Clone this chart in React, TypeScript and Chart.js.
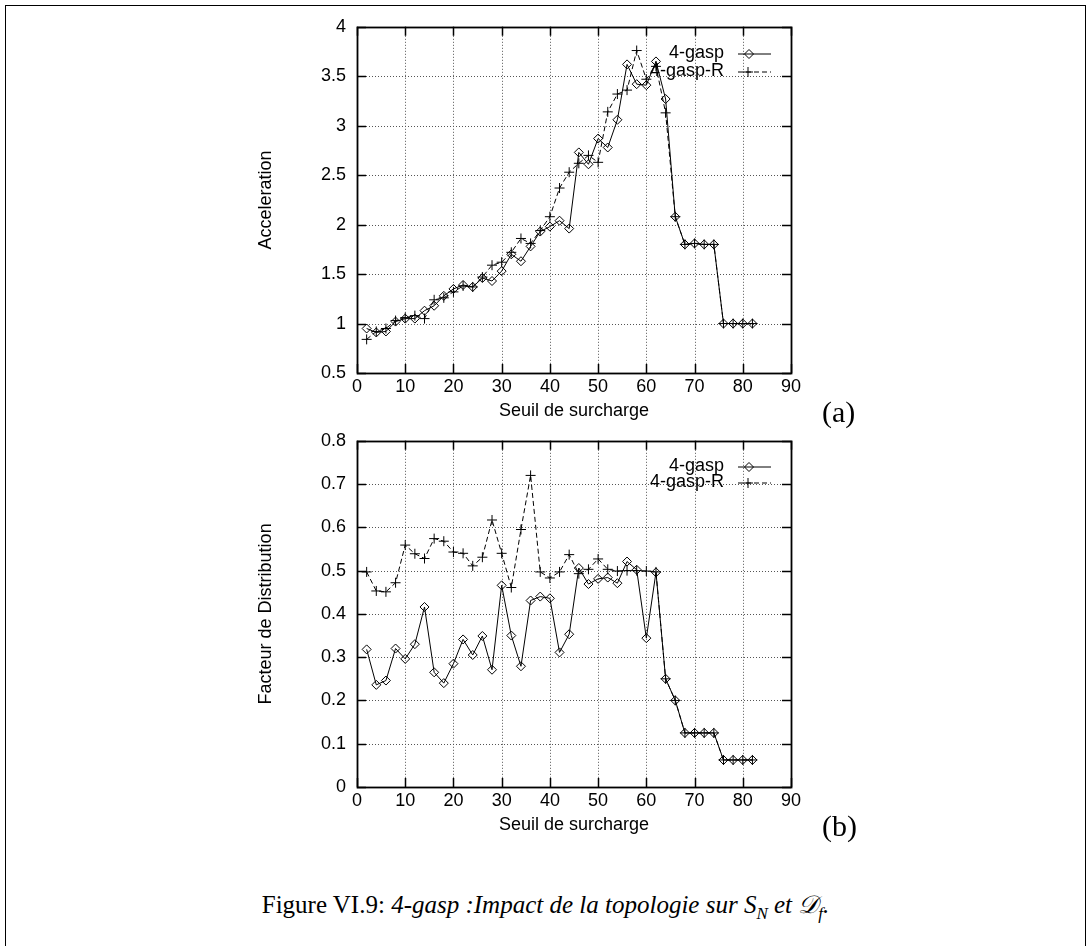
import React, { useEffect, useRef } from 'react';
import { Chart, registerables } from 'chart.js';

Chart.register(...registerables);

// ---------- data ----------
const seuil = [2, 4, 6, 8, 10, 12, 14, 16, 18, 20, 22, 24, 26, 28, 30, 32, 34, 36, 38, 40,
  42, 44, 46, 48, 50, 52, 54, 56, 58, 60, 62, 64, 66, 68, 70, 72, 74, 76, 78, 80, 82];

const accelGasp = [0.95, 0.91, 0.92, 1.02, 1.05, 1.05, 1.13, 1.18, 1.28, 1.35, 1.39, 1.37, 1.46, 1.43, 1.53,
  1.70, 1.63, 1.78, 1.93, 1.98, 2.04, 1.96, 2.73, 2.61, 2.87, 2.78, 3.06, 3.62, 3.42, 3.41, 3.65,
  3.27, 2.08, 1.80, 1.81, 1.80, 1.80, 1.00, 1.00, 1.00, 1.00];

const accelGaspR = [0.84, 0.92, 0.95, 1.03, 1.06, 1.08, 1.05, 1.24, 1.26, 1.32, 1.38, 1.37, 1.47, 1.59, 1.62,
  1.72, 1.86, 1.81, 1.94, 2.08, 2.37, 2.53, 2.62, 2.70, 2.63, 3.14, 3.32, 3.36, 3.76, 3.47, 3.60,
  3.13, 2.08, 1.80, 1.81, 1.80, 1.80, 1.00, 1.00, 1.00, 1.00];

const distGasp = [0.318, 0.236, 0.246, 0.320, 0.296, 0.330, 0.416, 0.265, 0.240, 0.285, 0.341, 0.305, 0.349,
  0.271, 0.466, 0.350, 0.279, 0.431, 0.440, 0.436, 0.311, 0.353, 0.506, 0.469, 0.481, 0.484, 0.471,
  0.521, 0.502, 0.344, 0.496, 0.25, 0.2, 0.125, 0.125, 0.125, 0.125, 0.0625, 0.0625, 0.0625, 0.0625];

const distGaspR = [0.497, 0.453, 0.451, 0.472, 0.559, 0.539, 0.528, 0.574, 0.568, 0.543, 0.540, 0.511, 0.531,
  0.617, 0.540, 0.461, 0.595, 0.720, 0.497, 0.483, 0.497, 0.537, 0.493, 0.503, 0.527, 0.503, 0.499,
  0.500, 0.500, 0.499, 0.497, 0.25, 0.2, 0.125, 0.125, 0.125, 0.125, 0.0625, 0.0625, 0.0625, 0.0625];

const xTickValues = [0, 10, 20, 30, 40, 50, 60, 70, 80, 90];
const xTickLabels = ['0', '10', '20', '30', '40', '50', '60', '70', '80', '90'];
const accelTickValues = [0.5, 1, 1.5, 2, 2.5, 3, 3.5, 4];
const accelTickLabels = ['0.5', '1', '1.5', '2', '2.5', '3', '3.5', '4'];
const distTickValues = [0, 0.1, 0.2, 0.3, 0.4, 0.5, 0.6, 0.7, 0.8];
const distTickLabels = ['0', '0.1', '0.2', '0.3', '0.4', '0.5', '0.6', '0.7', '0.8'];

const seriesNames = ['4-gasp', '4-gasp-R'];
const xTitle = 'Seuil de surcharge';
const accelTitle = 'Acceleration';
const distTitle = 'Facteur de Distribution';

// ---------- drawing helpers ----------
const SANS = "'Liberation Sans', Arial, sans-serif";
const CANVAS_LEFT = 250;
const CANVAS_W = 640;
const CANVAS_H = 420;

function drawDiamond(ctx: CanvasRenderingContext2D, x: number, y: number, r: number) {
  ctx.beginPath();
  ctx.moveTo(x - r, y);
  ctx.lineTo(x, y - r);
  ctx.lineTo(x + r, y);
  ctx.lineTo(x, y + r);
  ctx.closePath();
  ctx.stroke();
}
function drawCross(ctx: CanvasRenderingContext2D, x: number, y: number, r: number) {
  ctx.beginPath();
  ctx.moveTo(x - r, y);
  ctx.lineTo(x + r, y);
  ctx.moveTo(x, y - r);
  ctx.lineTo(x, y + r);
  ctx.stroke();
}

function makeGnuplotPlugin(yTicks: number[], legendRows: number[]) {
  return {
    id: 'gnuFrame',
    beforeDatasetsDraw(chart: any) {
      const { ctx, chartArea: a, scales } = chart;
      const xs = scales.x;
      const ys = scales.y;
      ctx.save();
      // dotted grid
      ctx.strokeStyle = '#555';
      ctx.lineWidth = 1;
      ctx.setLineDash([1, 2]);
      xTickValues.forEach((v) => {
        if (v <= xs.min || v >= xs.max) return;
        const px = Math.round(xs.getPixelForValue(v)) + 0.5;
        ctx.beginPath();
        ctx.moveTo(px, a.top);
        ctx.lineTo(px, a.bottom);
        ctx.stroke();
      });
      yTicks.forEach((v) => {
        if (v <= ys.min || v >= ys.max) return;
        const py = Math.round(ys.getPixelForValue(v)) + 0.5;
        ctx.beginPath();
        ctx.moveTo(a.left, py);
        ctx.lineTo(a.right, py);
        ctx.stroke();
      });
      ctx.setLineDash([]);
      // ticks (inside, mirrored)
      ctx.strokeStyle = '#000';
      ctx.lineWidth = 1.5;
      const tl = 9;
      xTickValues.forEach((v) => {
        const px = Math.round(xs.getPixelForValue(v)) + 0.5;
        ctx.beginPath();
        ctx.moveTo(px, a.bottom);
        ctx.lineTo(px, a.bottom - tl);
        ctx.moveTo(px, a.top);
        ctx.lineTo(px, a.top + tl);
        ctx.stroke();
      });
      yTicks.forEach((v) => {
        const py = Math.round(ys.getPixelForValue(v)) + 0.5;
        ctx.beginPath();
        ctx.moveTo(a.left, py);
        ctx.lineTo(a.left + tl, py);
        ctx.moveTo(a.right, py);
        ctx.lineTo(a.right - tl, py);
        ctx.stroke();
      });
      // border
      ctx.lineWidth = 1.8;
      ctx.strokeRect(Math.round(a.left) + 0.5, Math.round(a.top) + 0.5,
        Math.round(a.right - a.left), Math.round(a.bottom - a.top));
      ctx.restore();
    },
    afterDatasetsDraw(chart: any) {
      const { ctx } = chart;
      const textRight = 724 - CANVAS_LEFT;
      const x0 = 738 - CANVAS_LEFT;
      const x1 = 771 - CANVAS_LEFT;
      const mx = 749 - CANVAS_LEFT;
      ctx.save();
      ctx.font = `18px ${SANS}`;
      ctx.fillStyle = '#000';
      ctx.textAlign = 'right';
      ctx.textBaseline = 'middle';
      ctx.strokeStyle = '#000';
      ctx.lineWidth = 1;
      seriesNames.forEach((name, i) => {
        const y = legendRows[i];
        ctx.fillText(name, textRight, y);
        ctx.setLineDash(i === 0 ? [] : [5, 3]);
        ctx.beginPath();
        ctx.moveTo(x0, y + 0.5);
        ctx.lineTo(x1, y + 0.5);
        ctx.stroke();
        ctx.setLineDash([]);
        if (i === 0) drawDiamond(ctx, mx, y + 0.5, 4.5);
        else drawCross(ctx, mx - 1, y + 0.5, 5);
      });
      ctx.restore();
    },
  };
}

function buildConfig(
  a: number[], b: number[], yMin: number, yMax: number,
  yTicks: number[], yLabels: string[], yTitle: string, legendRows: number[],
): any {
  return {
    type: 'line',
    data: {
      datasets: [
        {
          label: seriesNames[0],
          data: seuil.map((x, i) => ({ x, y: a[i] })),
          borderColor: '#000',
          borderWidth: 1,
          pointStyle: 'rectRot',
          pointRadius: 4.5,
          pointBorderColor: '#000',
          pointBackgroundColor: 'rgba(0,0,0,0)',
          pointBorderWidth: 1,
          tension: 0,
          fill: false,
        },
        {
          label: seriesNames[1],
          data: seuil.map((x, i) => ({ x, y: b[i] })),
          borderColor: '#000',
          borderWidth: 1,
          borderDash: [5, 3],
          pointStyle: 'cross',
          pointRadius: 5,
          pointBorderColor: '#000',
          pointBackgroundColor: 'rgba(0,0,0,0)',
          pointBorderWidth: 1,
          tension: 0,
          fill: false,
        },
      ],
    },
    options: {
      responsive: false,
      animation: false,
      events: [],
      layout: { padding: { left: 0, top: 20, right: CANVAS_W - 541, bottom: 0 } },
      plugins: { legend: { display: false }, tooltip: { enabled: false } },
      scales: {
        x: {
          type: 'linear',
          min: 0,
          max: 90,
          afterFit: (s: any) => { s.height = 52; },
          afterBuildTicks: (s: any) => { s.ticks = xTickValues.map((v) => ({ value: v })); },
          ticks: {
            autoSkip: false,
            maxRotation: 0,
            padding: 3,
            color: '#000',
            font: { family: SANS, size: 18 },
            callback: (_v: any, i: number) => xTickLabels[i],
          },
          grid: { display: false, drawTicks: false, tickLength: 0 },
          border: { display: false },
          title: {
            display: true,
            text: xTitle,
            color: '#000',
            font: { family: SANS, size: 18 },
            padding: { top: 0, bottom: 3 },
          },
        },
        y: {
          type: 'linear',
          min: yMin,
          max: yMax,
          afterFit: (s: any) => { s.width = 107; },
          afterBuildTicks: (s: any) => { s.ticks = yTicks.map((v) => ({ value: v })); },
          ticks: {
            autoSkip: false,
            padding: 11,
            color: '#000',
            font: { family: SANS, size: 18 },
            callback: (_v: any, i: number) => yLabels[i],
          },
          grid: { display: false, drawTicks: false, tickLength: 0 },
          border: { display: false },
          title: {
            display: true,
            text: yTitle,
            color: '#000',
            font: { family: SANS, size: 18 },
            padding: { top: 5, bottom: 0 },
          },
        },
      },
    },
    plugins: [makeGnuplotPlugin(yTicks, legendRows)],
  };
}

function GnuChart(props: { top: number; cfg: () => any }) {
  const ref = useRef<HTMLCanvasElement | null>(null);
  useEffect(() => {
    if (!ref.current) return;
    const chart = new Chart(ref.current, props.cfg());
    return () => chart.destroy();
  }, []);
  return (
    <canvas
      ref={ref}
      width={CANVAS_W}
      height={CANVAS_H}
      style={{ position: 'absolute', left: CANVAS_LEFT, top: props.top, width: CANVAS_W, height: CANVAS_H }}
    />
  );
}

export default function App() {
  const serif = "'Liberation Serif', 'Times New Roman', serif";
  return (
    <div style={{ position: 'absolute', left: 0, top: 0, width: 1091, height: 946, overflow: 'hidden', background: '#fff' }}>
      <div style={{
        position: 'absolute', left: 5, top: 5, width: 1079, height: 1000,
        borderTop: '1px solid #000', borderLeft: '1px solid #000', borderRight: '1px solid #000',
      }} />
      <GnuChart
        top={5}
        cfg={() => buildConfig(accelGasp, accelGaspR, 0.5, 4, accelTickValues, accelTickLabels, accelTitle, [48.5, 66.5])}
      />
      <GnuChart
        top={419}
        cfg={() => buildConfig(distGasp, distGaspR, 0, 0.8, distTickValues, distTickLabels, distTitle, [47.5, 63.5])}
      />
      <div style={{ position: 'absolute', left: 822, top: 395, fontFamily: serif, fontSize: 30, lineHeight: '34px' }}>(a)</div>
      <div style={{ position: 'absolute', left: 822, top: 809, fontFamily: serif, fontSize: 30, lineHeight: '34px' }}>(b)</div>
      <div style={{
        position: 'absolute', left: 0, top: 890, width: 1091, textAlign: 'center',
        fontFamily: serif, fontSize: 25, lineHeight: '30px', whiteSpace: 'nowrap',
      }}>
        Figure VI.9: <i>4-gasp :Impact de la topologie sur S<sub style={{ fontSize: 17 }}>N</sub> et 𝒟<sub style={{ fontSize: 17 }}>f</sub>.</i>
      </div>
    </div>
  );
}
